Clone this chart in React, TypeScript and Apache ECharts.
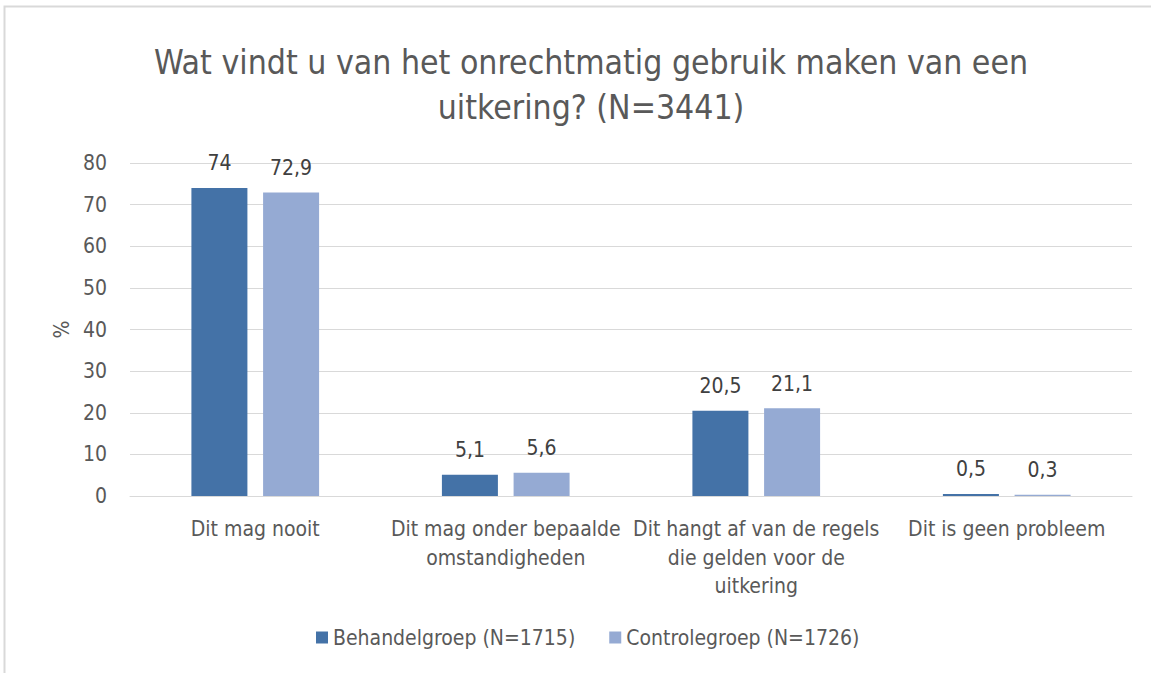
import React, { useEffect, useRef } from "react";
import * as echarts from "echarts";

const categories = [
  "Dit mag nooit",
  "Dit mag onder bepaalde\nomstandigheden",
  "Dit hangt af van de regels\ndie gelden voor de\nuitkering",
  "Dit is geen probleem",
];
const behandelgroep = [74, 5.1, 20.5, 0.5];
const controlegroep = [72.9, 5.6, 21.1, 0.3];
const seriesNames = ["Behandelgroep (N=1715)", "Controlegroep (N=1726)"];
const titleText = "Wat vindt u van het onrechtmatig gebruik maken van een\nuitkering? (N=3441)";

const FONT = "'Liberation Sans Narrow', 'DejaVu Sans Condensed', 'Open Sans', sans-serif";

export default function App() {
  const ref = useRef<HTMLDivElement>(null);
  useEffect(() => {
    if (!ref.current) return;
    const chart = echarts.init(ref.current, undefined, { renderer: "svg" });
    const fmt = (p: any) => String(p.value).replace(".", ",");
    const labelStyle = {
      show: true,
      position: "top",
      distance: 14,
      formatter: fmt,
      fontFamily: FONT,
      fontSize: 21,
      color: "#404040",
    };
    chart.setOption({
      animation: false,
      backgroundColor: "#ffffff",
      textStyle: { fontFamily: FONT },
      title: {
        text: titleText,
        left: 586,
        textAlign: "center",
        top: 35,
        textStyle: {
          fontFamily: FONT,
          fontSize: 33.5,
          fontWeight: "normal",
          color: "#595959",
          lineHeight: 45,
        },
      },
      graphic: [
        {
          type: "rect",
          shape: { x: 4.5, y: 6.5, width: 1200, height: 700 },
          style: { fill: "none", stroke: "#d9d9d9", lineWidth: 2 },
          silent: true,
        },
      ],
      legend: {
        bottom: 20,
        left: 311,
        itemWidth: 12,
        itemHeight: 12,
        itemGap: 34,
        icon: "rect",
        textStyle: { fontFamily: FONT, fontSize: 21, color: "#595959" },
        data: seriesNames,
      },
      grid: { left: 130, right: 19, top: 163, bottom: 177 },
      xAxis: {
        type: "category",
        data: categories,
        axisLine: { lineStyle: { color: "#d9d9d9", width: 1 } },
        axisTick: { show: false },
        axisLabel: {
          interval: 0,
          fontFamily: FONT,
          fontSize: 21,
          color: "#595959",
          lineHeight: 28.5,
          margin: 19,
        },
      },
      yAxis: {
        type: "value",
        min: 0,
        max: 80,
        interval: 10,
        name: "%",
        nameLocation: "middle",
        nameRotate: 90,
        nameGap: 58,
        nameTextStyle: { fontFamily: FONT, fontSize: 21, color: "#595959" },
        axisLine: { show: false },
        axisTick: { show: false },
        splitLine: { lineStyle: { color: "#d9d9d9", width: 1 } },
        axisLabel: { fontFamily: FONT, fontSize: 21, color: "#595959", margin: 23 },
      },
      series: [
        {
          name: seriesNames[0],
          type: "bar",
          data: behandelgroep,
          barWidth: 56,
          barGap: "28%",
          itemStyle: { color: "#4472A7" },
          label: labelStyle,
        },
        {
          name: seriesNames[1],
          type: "bar",
          data: controlegroep,
          barWidth: 56,
          itemStyle: { color: "#95AAD3" },
          label: labelStyle,
        },
      ],
    });
    return () => chart.dispose();
  }, []);
  return (
    <div
      ref={ref}
      style={{ position: "fixed", left: 0, top: 0, width: 1151, height: 673 }}
    />
  );
}
